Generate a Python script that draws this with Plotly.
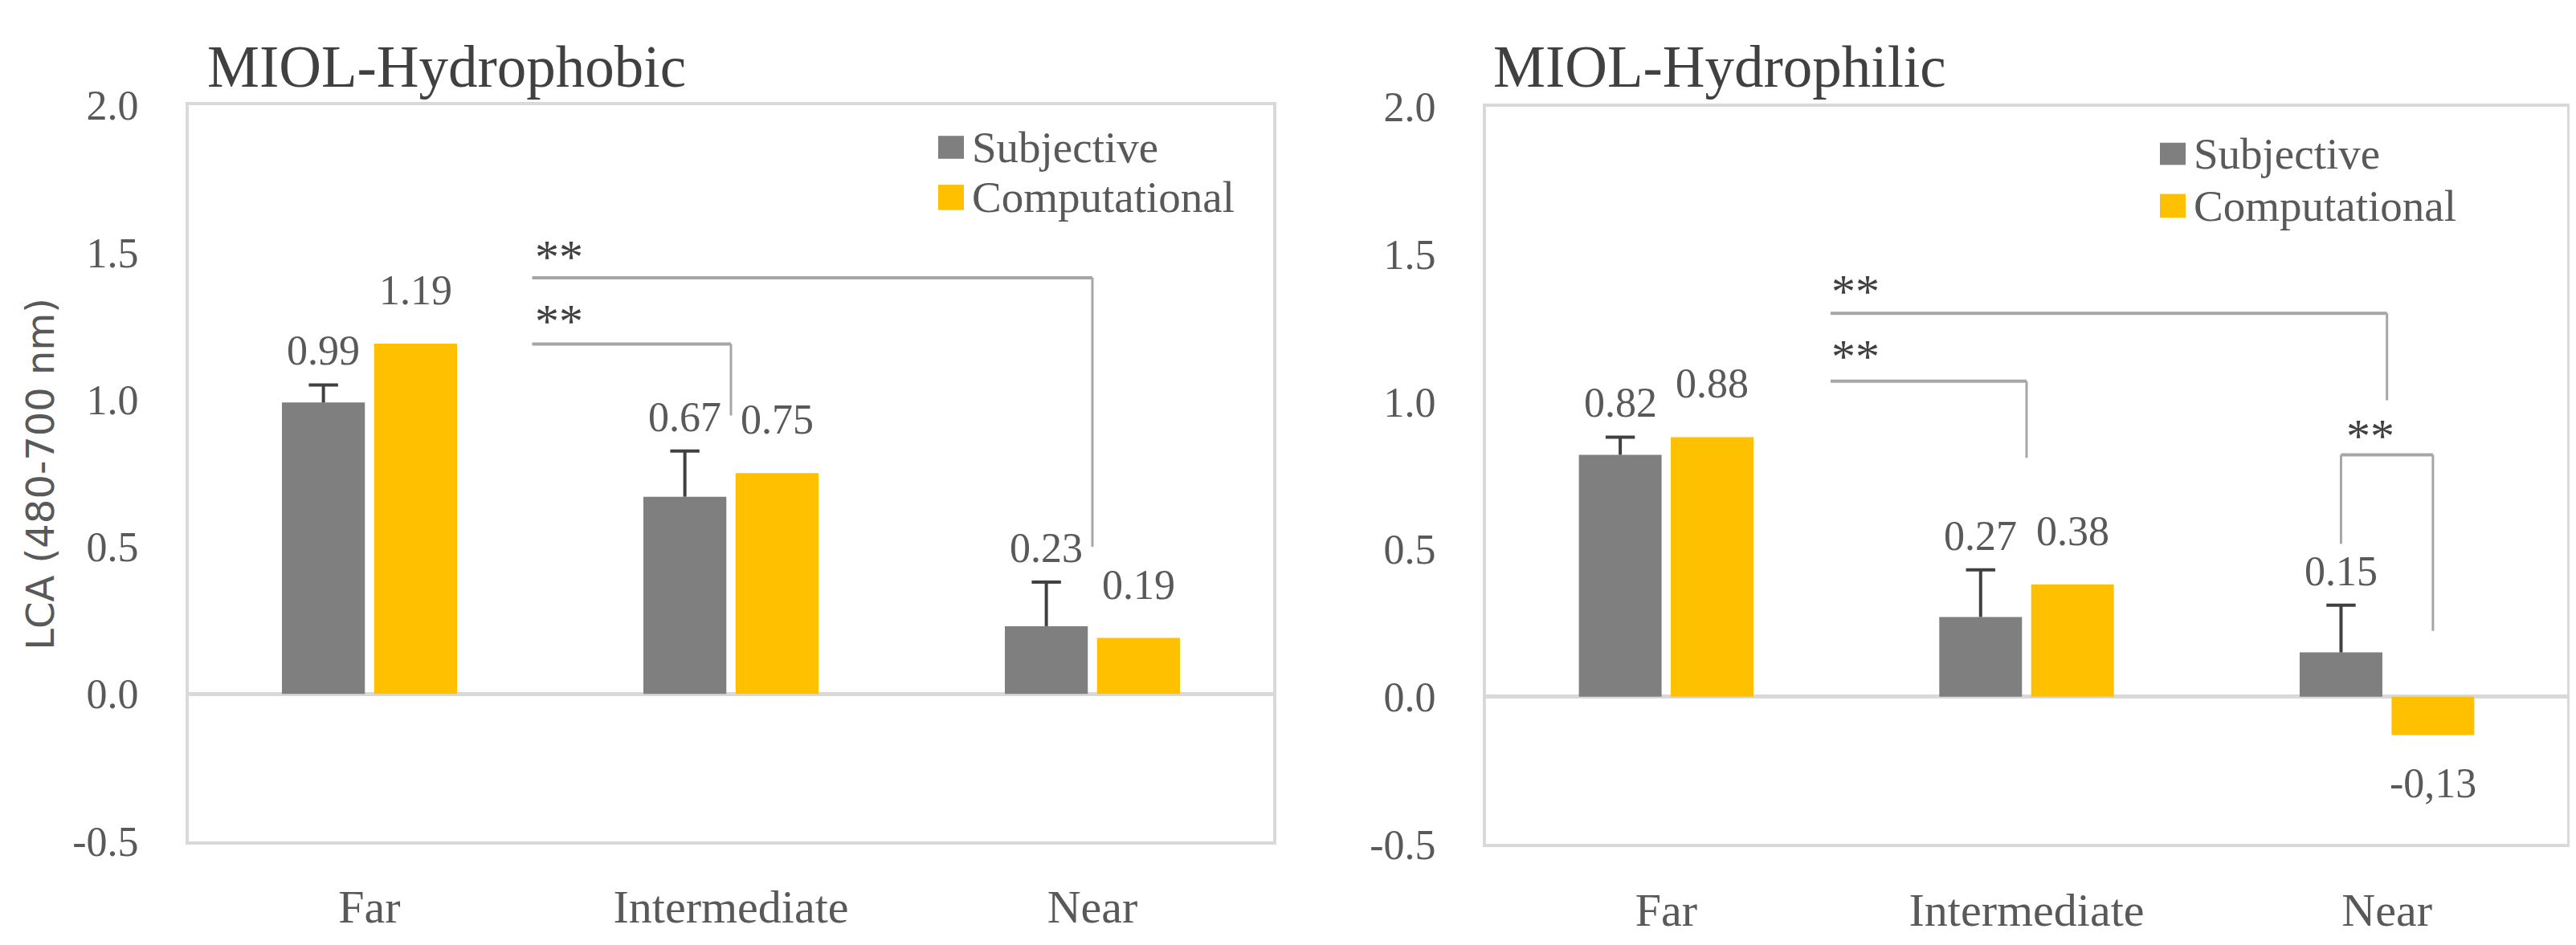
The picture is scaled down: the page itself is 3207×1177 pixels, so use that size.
import plotly.graph_objects as go

# ---------------- data ----------------
categories = ["Far", "Intermediate", "Near"]
series_names = ["Subjective", "Computational"]
panel_titles = ["MIOL-Hydrophobic", "MIOL-Hydrophilic"]
y_title = "LCA (480-700 nm)"

phobic_subj = [0.99, 0.67, 0.23]
phobic_subj_err = [0.06, 0.155, 0.15]
phobic_comp = [1.19, 0.75, 0.19]
phobic_subj_lbl = ["0.99", "0.67", "0.23"]
phobic_comp_lbl = ["1.19", "0.75", "0.19"]

philic_subj = [0.82, 0.27, 0.15]
philic_subj_err = [0.06, 0.16, 0.16]
philic_comp = [0.88, 0.38, -0.13]
philic_subj_lbl = ["0.82", "0.27", "0.15"]
philic_comp_lbl = ["0.88", "0.38", "-0,13"]

y_ticks = [-0.5, 0.0, 0.5, 1.0, 1.5, 2.0]
y_tick_text = ["-0.5", "0.0", "0.5", "1.0", "1.5", "2.0"]

# significance brackets: (x_start, x_end, y_bar, y_drop_end, star_x, star_y)
phobic_brackets = [(0.45, 2.0, 1.414, 0.50, 0.524, 1.513),
                   (0.45, 1.0, 1.189, 0.946, 0.524, 1.295)]
philic_brackets = [(0.456, 2.0, 1.30, 1.005, 0.525, 1.40),
                   (0.456, 1.0, 1.07, 0.81, 0.525, 1.18)]
# bracket between the two bars of the hydrophilic "Near" group:
# (y_left_end, y_bar, y_right_end, star_x, star_y)
philic_near_bracket = (0.518, 0.82, 0.223, 1.954, 0.91)

# ---------------- style ----------------
W, H = 3207, 1177
GRAY = "#7f7f7f"
GOLD = "#ffc000"
TXT = "#595959"
DARK = "#404040"
BRK = "#a6a6a6"
AXL = "#d9d9d9"
SERIF = "Liberation Serif"
BARGAP = 0.49
OFF = (1 - BARGAP) / 4.0
idx = list(range(len(categories)))


def px(x):
    return x / W


def py(y):
    return 1 - y / H


fig = go.Figure()

panels = [
    dict(subj=phobic_subj, err=phobic_subj_err, comp=phobic_comp,
         sl=phobic_subj_lbl, cl=phobic_comp_lbl, xa="x", ya="y",
         dom_x=[px(227), px(1577)], dom_y=[py(1063), py(100)]),
    dict(subj=philic_subj, err=philic_subj_err, comp=philic_comp,
         sl=philic_subj_lbl, cl=philic_comp_lbl, xa="x2", ya="y2",
         dom_x=[px(1842), px(3188)], dom_y=[py(1067), py(102)]),
]

for p in panels:
    fig.add_trace(go.Bar(
        x=idx, y=p["subj"], name=series_names[0], marker_color=GRAY,
        marker_line_width=0, xaxis=p["xa"], yaxis=p["ya"], showlegend=False))
    fig.add_trace(go.Bar(
        x=idx, y=p["comp"], name=series_names[1], marker_color=GOLD,
        marker_line_width=0, xaxis=p["xa"], yaxis=p["ya"], showlegend=False))
    # upward-only error bars (stem + top cap)
    ex, ey = [], []
    for i in idx:
        ex += [i - OFF, i - OFF, None]
        ey += [p["subj"][i], p["subj"][i] + p["err"][i], None]
    fig.add_trace(go.Scatter(x=ex, y=ey, mode="lines", line=dict(color=DARK, width=4),
                             xaxis=p["xa"], yaxis=p["ya"], showlegend=False,
                             hoverinfo="skip"))
    fig.add_trace(go.Scatter(x=[i - OFF for i in idx],
                             y=[p["subj"][i] + p["err"][i] for i in idx],
                             mode="markers",
                             marker=dict(symbol="line-ew", size=26,
                                         line=dict(color=DARK, width=4)),
                             xaxis=p["xa"], yaxis=p["ya"], showlegend=False,
                             hoverinfo="skip"))

annotations = []
shapes = []

for p in panels:
    for i in idx:
        annotations.append(dict(
            x=i - OFF, y=p["subj"][i] + p["err"][i], xref=p["xa"], yref=p["ya"],
            text=p["sl"][i], showarrow=False, yanchor="bottom", yshift=12,
            font=dict(family=SERIF, size=52, color=TXT)))
        v = p["comp"][i]
        if v >= 0:
            annotations.append(dict(
                x=i + OFF, y=v, xref=p["xa"], yref=p["ya"], text=p["cl"][i],
                showarrow=False, yanchor="bottom", yshift=36,
                font=dict(family=SERIF, size=52, color=TXT)))
        else:
            annotations.append(dict(
                x=i + OFF, y=v, xref=p["xa"], yref=p["ya"], text=p["cl"][i],
                showarrow=False, yanchor="top", yshift=-30,
                font=dict(family=SERIF, size=52, color=TXT)))


def add_line(xa, ya, x0, y0, x1, y1, w=4):
    shapes.append(dict(type="line", xref=xa, yref=ya, x0=x0, y0=y0, x1=x1, y1=y1,
                       line=dict(color=BRK, width=w)))


def add_star(xa, ya, x, y):
    annotations.append(dict(x=x, y=y, xref=xa, yref=ya, text="**", showarrow=False,
                            yanchor="middle", yshift=-10,
                            font=dict(family=SERIF, size=60, color=DARK)))


for (xa, ya, brs) in [("x", "y", phobic_brackets), ("x2", "y2", philic_brackets)]:
    for (x0, x1, yb, yd, sx, sy) in brs:
        add_line(xa, ya, x0, yb, x1, yb, 4)
        add_line(xa, ya, x1, yb, x1, yd, 3)
        add_star(xa, ya, sx, sy)

yl, yb, yr, sx, sy = philic_near_bracket
add_line("x2", "y2", 2 - OFF, yl, 2 - OFF, yb, 3)
add_line("x2", "y2", 2 - OFF, yb, 2 + OFF, yb, 4)
add_line("x2", "y2", 2 + OFF, yb, 2 + OFF, yr, 3)
add_star("x2", "y2", sx, sy)

# panel titles
for (t, x0, yc) in [(panel_titles[0], 248, 50), (panel_titles[1], 1849, 50)]:
    annotations.append(dict(x=px(x0), y=py(yc), xref="paper", yref="paper", text=t,
                            showarrow=False, xanchor="left", yanchor="middle",
                            font=dict(family=SERIF, size=73, color=DARK)))

# y-axis title
annotations.append(dict(x=px(42), y=py(583), xref="paper", yref="paper", text=y_title,
                        showarrow=False, textangle=-90, xanchor="center", yanchor="middle",
                        font=dict(family="DejaVu Sans", size=48, color=TXT)))

# manual legends (square swatches + text)
legend_pos = [(1160, [(140, 170), (204, 237)]), (2681, [(149, 178), (216, 247)])]
colors = [GRAY, GOLD]
for (lx, rows) in legend_pos:
    for k, (y0, y1) in enumerate(rows):
        shapes.append(dict(type="rect", xref="paper", yref="paper",
                           x0=px(lx), x1=px(lx + 32), y0=py(y1), y1=py(y0),
                           fillcolor=colors[k], line=dict(width=0)))
        annotations.append(dict(x=px(lx + 40), y=py((y0 + y1) / 2), xref="paper",
                                yref="paper", text=series_names[k], showarrow=False,
                                xanchor="left", yanchor="middle",
                                font=dict(family=SERIF, size=55, color=TXT)))

axis_common = dict(showline=True, mirror=True, linecolor=AXL, linewidth=4,
                   showgrid=False, ticks="")
layout = dict(
    width=W, height=H, margin=dict(l=0, r=0, t=0, b=0),
    paper_bgcolor="white", plot_bgcolor="white",
    barmode="group", bargap=BARGAP, bargroupgap=0.1,
    showlegend=False,
    annotations=annotations, shapes=shapes,
)
for k, p in enumerate(panels):
    sfx = "" if k == 0 else str(k + 1)
    layout["xaxis" + sfx] = dict(domain=p["dom_x"], anchor="y" + sfx,
                                 range=[-0.5, len(categories) - 0.5],
                                 tickvals=idx, ticktext=categories,
                                 tickfont=dict(family=SERIF, size=58, color=TXT),
                                 ticklabelstandoff=28, zeroline=False, **axis_common)
    layout["yaxis" + sfx] = dict(domain=p["dom_y"], anchor="x" + sfx, range=[-0.5, 2.0],
                                 tickvals=y_ticks, ticktext=y_tick_text,
                                 tickfont=dict(family=SERIF, size=52, color=TXT),
                                 ticklabelstandoff=48, zeroline=True,
                                 zerolinecolor=AXL, zerolinewidth=5, **axis_common)

fig.update_layout(**layout)
fig.write_html("out.html")
